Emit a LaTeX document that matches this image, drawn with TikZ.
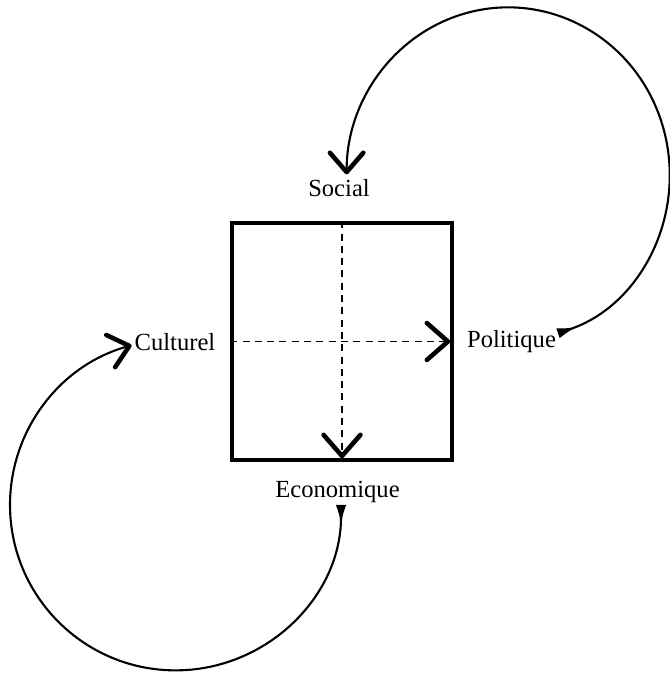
\documentclass[tikz,border=0pt]{standalone}
\usepackage{fontspec}
\setmainfont{Liberation Serif}
\usetikzlibrary{arrows.meta}

\begin{document}
\begin{tikzpicture}[
	pole/.style={inner sep=1pt, font=\fontsize{14}{16}\selectfont},
	axe/.style={line width=0.8pt, dash pattern=on 4pt off 3pt,
		arrows={-Straight Barb[length=12pt,width=21pt,line width=2.6pt,round]}},
	boucle/.style={line width=1.2pt,
		arrows={Latex[reversed,length=11pt,width=6pt]-Straight Barb[length=11pt,width=19pt,line width=2.6pt,round]}}
]
\useasboundingbox (0,0) rectangle (13.4,13.48);

\def \rx {3.23cm} % upper loop, horizontal radius
\def \ry {3.34cm}
\def \r {3.31cm}  % lower loop

% the square and its two axes
\node[draw, line width=2pt, minimum width=4.4cm, minimum height=4.74cm] (carre) at (6.84,6.65) {};

\node[pole] (soc) at (6.78,9.72) {Social};
\node[pole] (pol) at (10.23,6.64) {Politique};
\node[pole] (cul) at (3.5,6.64) {Culturel};
\node[pole] (eco) at (6.75,3.64) {Economique};

\draw[axe] (carre.west) -- ([xshift=-2pt]carre.east);
\draw[axe] (carre.north) -- ([yshift=2pt]carre.south);

% loops
\draw[boucle] ([yshift=5pt]pol.east) arc[start angle=-72, end angle=180, x radius=\rx, y radius=\ry];
\draw[boucle] ([xshift=2pt]eco.south) arc[start angle=0, end angle=-254.6, radius=\r];
\end{tikzpicture}
\end{document}
